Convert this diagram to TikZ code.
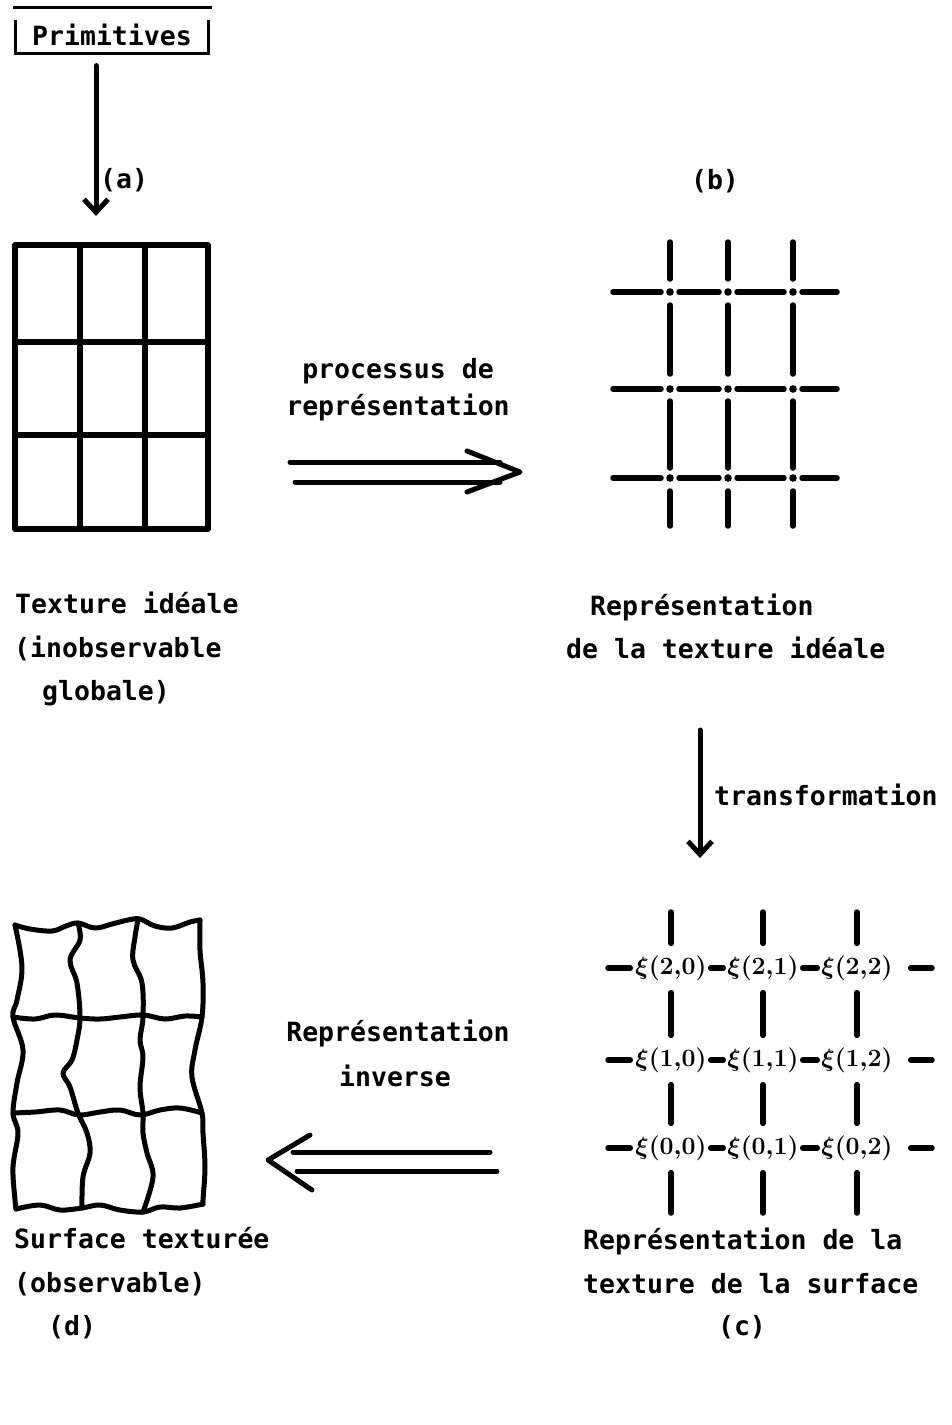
\documentclass[tikz,border=0pt]{standalone}
\usepackage{fontspec}
\setmonofont{DejaVu Sans Mono}
\usetikzlibrary{arrows.meta}
\begin{document}
\begin{tikzpicture}[x=1pt,y=-1pt,
  txt/.style={font=\ttfamily\bfseries\fontsize{26.5}{30}\selectfont, inner sep=0pt},
  xil/.style={font=\fontsize{26}{30}\selectfont\boldmath, inner sep=0pt},
  thick4/.style={line width=5.5pt, line cap=round, line join=round},
  wav/.style={line width=5pt, line cap=round, line join=round},
  arr/.style={line width=5pt, line cap=round, -{Straight Barb[length=13pt,width=24pt]}},
  dbl/.style={line width=5pt, line cap=round, line join=round}]
\useasboundingbox (0,0) rectangle (952,1425);

% ---------- Primitives ----------
\node[txt, anchor=base] (prim) at (112,45) {Primitives};
\draw[line width=3pt] (13,7) -- (212,7);
\draw[line width=3pt] (15,20) |- (208,53) -- (208,20);
\coordinate (ga) at (96,216);
\draw[arr, shorten <=20pt] (prim.south -| ga) -- (ga);
\node[txt, anchor=base west] (la) at (100,188) {(a)};

% ---------- grid (a) ----------
\draw[thick4] (15,245) rectangle (208,529);
\draw[thick4] (80,245) -- (80,529) (145,245) -- (145,529)
              (15,342) -- (208,342) (15,435) -- (208,435);

% ---------- arrow processus ----------
\node[txt, anchor=base] (p1) at (398,378) {processus de};
\node[txt, anchor=base] (p2) at (398,415) {représentation};
\draw[dbl] (290,462) -- (500,462) (295,482) -- (500,482);
\draw[dbl] (467,451) -- (520,472) -- (467,492);

% ---------- grid (b) ----------
\node[txt, anchor=base] (lb) at (715,189) {(b)};
\foreach \y in {292,389,478}{
  \draw[thick4] (613,\y) -- (661,\y) (679,\y) -- (719,\y) (737,\y) -- (784,\y) (802,\y) -- (837,\y);
}
\foreach \x in {670,728,793}{
  \draw[thick4] (\x,242) -- (\x,279) (\x,305) -- (\x,374) (\x,401) -- (\x,468) (\x,491) -- (\x,526);
  \foreach \y in {292,389,478}{ \fill (\x,\y) circle (3.8pt); }
}

% ---------- texts row 1 ----------
\node[txt, anchor=base west] (t1) at (15,613) {Texture idéale};
\node[txt, anchor=base west] (t2) at (14,657) {(inobservable};
\node[txt, anchor=base west] (t3) at (42,700) {globale)};
\node[txt, anchor=base west] (r1) at (590,615) {Représentation};
\node[txt, anchor=base west] (r2) at (566,658) {de la texture idéale};

% ---------- transformation ----------
\coordinate (tA) at (700,730);
\coordinate (tB) at (700,858);
\draw[arr] (tA) -- (tB);
\node[txt, anchor=base west] (tr) at (714,805) {transformation};

% ---------- grid (c) ----------
\foreach \r/\y in {2/968,1/1060,0/1148}{
  \foreach \c/\x in {0/671,1/763,2/857}{
    \node[xil] (x\r\c) at (\x,\y) {$\xi(\r,\!\c)$};
  }
  \coordinate (cl\r) at (608,\y);
  \coordinate (cr\r) at (932,\y);
  \draw[thick4, shorten >=5pt] (cl\r) -- (x\r0.west);
  \draw[thick4, shorten >=4pt, shorten <=4pt] (x\r0.east) -- (x\r1.west);
  \draw[thick4, shorten >=4pt, shorten <=4pt] (x\r1.east) -- (x\r2.west);
  \draw[thick4, shorten <=18pt] (x\r2.east) -- (cr\r);
}
\foreach \c/\x in {0/671,1/763,2/857}{
  \coordinate (ct\c) at (\x,912);
  \coordinate (cb\c) at (\x,1213);
  \draw[thick4, shorten >=12pt] (ct\c) -- (x2\c.north);
  \draw[thick4, shorten >=12pt, shorten <=12pt] (x2\c.south) -- (x1\c.north);
  \draw[thick4, shorten >=12pt, shorten <=12pt] (x1\c.south) -- (x0\c.north);
  \draw[thick4, shorten <=12pt] (x0\c.south) -- (cb\c);
}

% ---------- inverse ----------
\node[txt, anchor=base] (i1) at (398,1041) {Représentation};
\node[txt, anchor=base] (i2) at (395,1086) {inverse};
\draw[dbl] (293,1152) -- (490,1152) (297,1171) -- (497,1171);
\draw[dbl] (310,1135) -- (268,1160) -- (312,1190);

% ---------- wavy grid (d) ----------
\draw[wav] plot[smooth, tension=0.6] coordinates {(15,925) (30,929) (52,931) (66,926) (78,923) (95,928) (112,924) (128,920) (140,919) (155,926) (172,928) (190,922) (200,920)};
\draw[wav] plot[smooth, tension=0.6] coordinates {(15,925) (22,967) (17,1000) (13,1017) (23,1050) (17,1083) (13,1113) (18,1133) (13,1167) (15,1200) (16,1209)};
\draw[wav] plot[smooth, tension=0.6] coordinates {(200,920) (200,950) (203,983) (202,1017) (195,1050) (192,1077) (202,1113) (203,1133) (205,1167) (203,1200) (203,1204)};
\draw[wav] plot[smooth, tension=0.6] coordinates {(16,1209) (40,1205) (60,1210) (82,1208) (100,1205) (120,1210) (143,1212) (160,1207) (180,1208) (203,1204)};
\draw[wav] plot[smooth, tension=0.6] coordinates {(13,1017) (35,1019) (55,1015) (80,1018) (100,1019) (120,1017) (143,1015) (165,1019) (185,1016) (202,1017)};
\draw[wav] plot[smooth, tension=0.6] coordinates {(13,1113) (35,1112) (60,1110) (79,1115) (100,1112) (120,1110) (140,1115) (160,1110) (180,1108) (202,1113)};
\draw[wav] plot[smooth, tension=0.6] coordinates {(78,923) (80,940) (70,960) (77,983) (80,1017) (77,1040) (72,1060) (63,1073) (70,1087) (78,1113) (87,1133) (90,1153) (83,1177) (82,1208)};
\draw[wav] plot[smooth, tension=0.6] coordinates {(138,920) (135,937) (133,960) (142,983) (143,1017) (140,1040) (143,1057) (140,1087) (143,1113) (143,1133) (147,1153) (153,1177) (143,1212)};

% ---------- bottom texts ----------
\node[txt, anchor=base west] (s1) at (14,1248) {Surface texturée};
\node[txt, anchor=base west] (s2) at (14,1292) {(observable)};
\node[txt, anchor=base west] (s3) at (48,1335) {(d)};
\node[txt, anchor=base west] (c1) at (583,1249) {Représentation de la};
\node[txt, anchor=base west] (c2) at (583,1293) {texture de la surface};
\node[txt, anchor=base] (c3) at (742,1335) {(c)};
\end{tikzpicture}
\end{document}
